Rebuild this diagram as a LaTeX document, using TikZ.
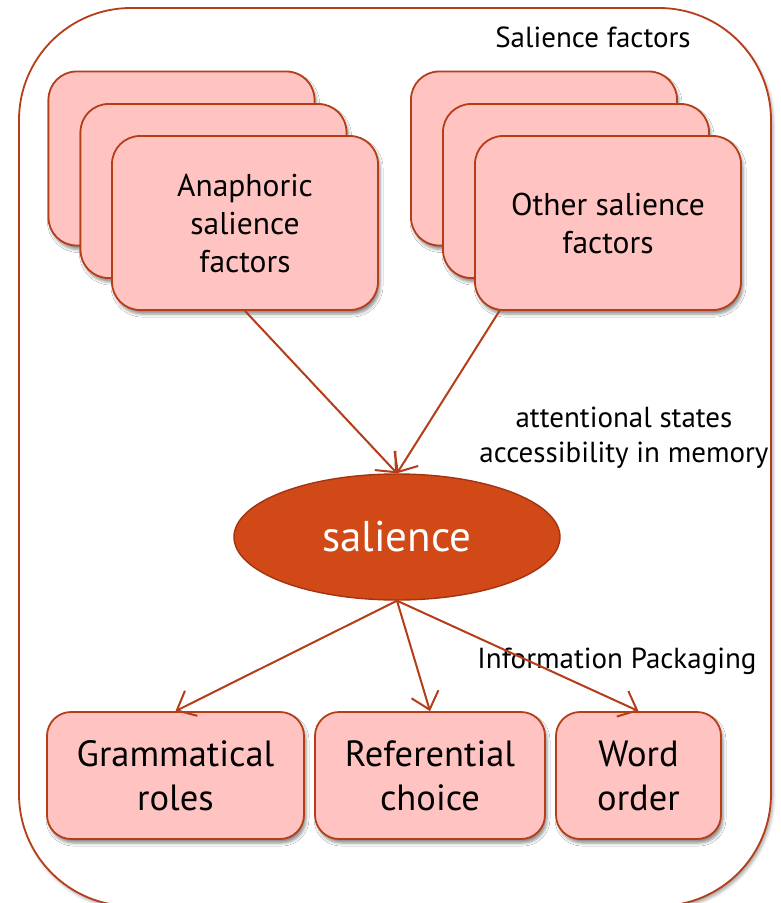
\documentclass[tikz,border=0pt]{standalone}
\usepackage{fontspec}
\setmainfont{PT Sans}
\usetikzlibrary{shapes.geometric,shadows.blur,arrows.meta}
\definecolor{frameline}{HTML}{B53D18}
\definecolor{boxfill}{HTML}{FFC4C2}
\definecolor{ovalfill}{HTML}{D04916}
\definecolor{ovalline}{HTML}{A33313}
\tikzset{
  boxshadow/.style={blur shadow={shadow xshift=2pt, shadow yshift=-4pt, shadow blur radius=3pt, shadow opacity=45}},
  factorbox/.style={draw=frameline, line width=1.8pt, fill=boxfill, rounded corners=28pt,
    minimum width=266pt, minimum height=174pt, inner sep=0pt, align=center, boxshadow,
    font=\fontsize{31.5}{38}\selectfont},
  outbox/.style={draw=frameline, line width=1.8pt, fill=boxfill, rounded corners=24pt,
    minimum height=127pt, inner sep=0pt, align=center, boxshadow,
    font=\fontsize{36.5}{44}\selectfont},
  oval/.style={ellipse, draw=ovalline, line width=1.4pt, fill=ovalfill, text=white,
    minimum width=326pt, minimum height=126pt, inner sep=0pt,
    font=\fontsize{43}{50}\selectfont},
  link/.style={draw=frameline, line width=2pt, -{Straight Barb[length=16pt, width=28pt, line width=2pt]}},
  note/.style={font=\fontsize{29}{35}\selectfont, align=center, inner sep=0pt},
}
\begin{document}
\begin{tikzpicture}[x=1pt, y=-1pt]
\useasboundingbox (0,0) rectangle (780,903);
% outer frame (its lower edge runs just past the page)
\node[draw=frameline, line width=1.8pt, rounded corners=112pt, minimum width=752pt, minimum height=898pt,
  blur shadow={shadow xshift=2pt, shadow yshift=-3pt, shadow blur radius=3pt, shadow opacity=35}, fill=white] (frame) at (395,457) {};
\node[note] (title) at (593,37) {Salience factors};

% anaphoric factor stack
\node[factorbox] (left1) at (181.5,158.5) {};
\node[factorbox] (left2) at (213.5,191) {};
\node[factorbox] (left3) at (245,223) {Anaphoric\\salience\\factors};

% other factor stack
\node[factorbox] (right1) at (544,158.5) {};
\node[factorbox] (right2) at (576,191) {};
\node[factorbox] (right3) at (608,223) {Other salience\\factors};

% central notion
\node[oval] (sal) at (397,537) {salience};

\node[note] (attn) at (624,438) {attentional states\\accessibility in memory};
\node[note] (info) at (617,661) {Information Packaging};

% outcomes
\node[outbox, minimum width=257pt] (gram) at (175.5,775.5) {Grammatical\\roles};
\node[outbox, minimum width=230pt] (ref) at (430,775.5) {Referential\\choice};
\node[outbox, minimum width=165pt] (word) at (638.5,775.5) {Word\\order};

% connectors
\draw[link] (left3.south) -- (sal.north);
\draw[link] (right3.219.4) -- (sal.north);
\draw[link] (sal.south) -- (gram.north);
\draw[link] (sal.south) -- (ref.north);
\draw[link] (sal.south) -- (word.north);
\end{tikzpicture}
\end{document}
